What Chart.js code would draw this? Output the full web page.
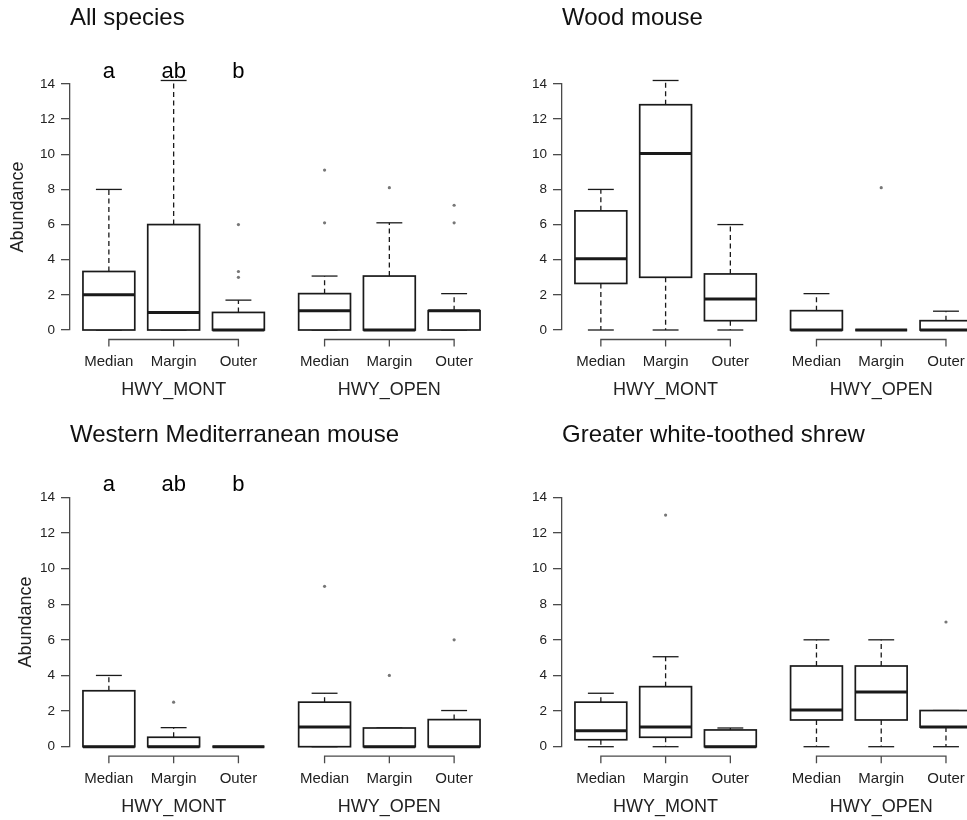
<!DOCTYPE html>
<html>
<head>
<meta charset="utf-8">
<title>Abundance by road type and position</title>
<script src="https://cdn.jsdelivr.net/npm/chart.js@4.4.1/dist/chart.umd.min.js"></script>
<style>
  body { margin: 0; background: #fff; width: 967px; height: 820px; overflow: hidden; position: relative; }
  canvas { position: absolute; }
</style>
</head>
<body>
<canvas id="allSpecies" width="492" height="400" style="left:0;top:0"></canvas>
<canvas id="woodMouse" width="475" height="400" style="left:492px;top:0"></canvas>
<canvas id="mediterranean" width="492" height="420" style="left:0;top:400px"></canvas>
<canvas id="shrew" width="475" height="420" style="left:492px;top:400px"></canvas>
<script>
const siteLabels = ['Median', 'Margin', 'Outer'];
const roadLabels = ['HWY_MONT', 'HWY_OPEN'];
const boxPositions = [1, 2, 3, 4.33, 5.33, 6.33];
const groupLetters = ['a', 'ab', 'b'];

// one row per box: [lower whisker, Q1, median, Q3, upper whisker]
// order: MONT Median, Margin, Outer, then OPEN Median, Margin, Outer
const allSpeciesStats = [
  [0, 0, 2, 3.33, 8], [0, 0, 1, 6, 14.2], [0, 0, 0, 1, 1.7],
  [0, 0, 1.1, 2.07, 3.07], [0, 0, 0, 3.07, 6.1], [0, 0, 1.1, 1.1, 2.07]
];
const allSpeciesOutliers = [[], [], [6, 3.33, 3], [9.1, 6.1], [8.1], [7.1, 6.1]];

const woodMouseStats = [
  [0, 2.65, 4.05, 6.78, 8], [0, 3, 10.05, 12.82, 14.2], [0, 0.53, 1.76, 3.19, 6],
  [0, 0, 0, 1.1, 2.07], [0, 0, 0, 0, 0], [0, 0, 0, 0.53, 1.07]
];
const woodMouseOutliers = [[], [], [], [], [8.1], []];

const mediterraneanStats = [
  [0, 0, 0, 3.14, 4], [0, 0, 0, 0.53, 1.07], [0, 0, 0, 0, 0],
  [0, 0, 1.1, 2.5, 3], [0, 0, 0, 1.05, 1.05], [0, 0, 0, 1.52, 2.03]
];
const mediterraneanOutliers = [[], [2.5], [], [9], [4], [6]];

const shrewStats = [
  [0, 0.39, 0.9, 2.5, 3], [0, 0.53, 1.1, 3.37, 5.05], [0, 0, 0, 0.94, 1.05],
  [0, 1.5, 2.06, 4.53, 6], [0, 1.5, 3.07, 4.53, 6], [0, 1.1, 1.1, 2.03, 2.03]
];
const shrewOutliers = [[], [13], [], [], [], [7]];

Chart.defaults.font.family = "'Liberation Sans', Arial, sans-serif";
Chart.defaults.color = '#222';

const INK = '#1a1a1a';
const AXIS = '#4a4a4a';

function boxPlugin(stats, letters) {
  return {
    id: 'boxes',
    beforeDatasetsDraw(chart) {
      const { ctx, scales: { x, y } } = chart;
      const seg = (x1, y1, x2, y2) => {
        ctx.beginPath(); ctx.moveTo(x1, y1); ctx.lineTo(x2, y2); ctx.stroke();
      };
      ctx.save();
      ctx.strokeStyle = INK;
      stats.forEach((s, i) => {
        const [lo, q1, med, q3, hi] = s;
        const cx = x.getPixelForValue(boxPositions[i]);
        const hw = x.getPixelForValue(boxPositions[i] + 0.4) - cx;
        const sw = hw / 2;
        // dashed whiskers
        ctx.lineWidth = 1.3;
        ctx.setLineDash([5, 3.5]);
        if (hi > q3) seg(cx, y.getPixelForValue(q3), cx, y.getPixelForValue(hi));
        if (lo < q1) seg(cx, y.getPixelForValue(q1), cx, y.getPixelForValue(lo));
        ctx.setLineDash([]);
        // staples
        seg(cx - sw, y.getPixelForValue(hi), cx + sw, y.getPixelForValue(hi));
        seg(cx - sw, y.getPixelForValue(lo), cx + sw, y.getPixelForValue(lo));
        // box
        ctx.lineWidth = 1.7;
        const top = y.getPixelForValue(q3);
        const bot = y.getPixelForValue(q1);
        ctx.fillStyle = '#fff';
        ctx.fillRect(cx - hw, top, hw * 2, bot - top);
        ctx.strokeRect(cx - hw, top, hw * 2, bot - top);
        // median
        ctx.lineWidth = 3;
        seg(cx - hw, y.getPixelForValue(med), cx + hw, y.getPixelForValue(med));
      });
      ctx.restore();
    },
    afterDraw(chart) {
      const { ctx, scales: { x, y } } = chart;
      const y0 = y.getPixelForValue(0);
      ctx.save();
      // grouping brackets with site labels, one per road
      roadLabels.forEach((road, g) => {
        const xs = boxPositions.slice(g * 3, g * 3 + 3).map(v => x.getPixelForValue(v));
        ctx.strokeStyle = AXIS;
        ctx.lineWidth = 1.3;
        ctx.beginPath();
        ctx.moveTo(xs[0], y0 + 16.5);
        ctx.lineTo(xs[0], y0 + 9.5);
        ctx.lineTo(xs[2], y0 + 9.5);
        ctx.lineTo(xs[2], y0 + 16.5);
        ctx.moveTo(xs[1], y0 + 9.5);
        ctx.lineTo(xs[1], y0 + 16.5);
        ctx.stroke();
        ctx.fillStyle = '#222';
        ctx.textAlign = 'center';
        ctx.textBaseline = 'middle';
        ctx.font = "15px 'Liberation Sans', Arial, sans-serif";
        siteLabels.forEach((lab, k) => ctx.fillText(lab, xs[k], y0 + 32));
        ctx.font = "18px 'Liberation Sans', Arial, sans-serif";
        ctx.fillText(road, xs[1], y0 + 60.5);
      });
      // significance letters above the MONT boxes
      if (letters) {
        ctx.fillStyle = '#000';
        ctx.textAlign = 'center';
        ctx.textBaseline = 'alphabetic';
        ctx.font = "22px 'Liberation Sans', Arial, sans-serif";
        letters.forEach((l, k) => ctx.fillText(l, x.getPixelForValue(boxPositions[k]), y.getPixelForValue(14.35)));
      }
      ctx.restore();
    }
  };
}

function drawPanel(id, p) {
  const points = [];
  p.outliers.forEach((vals, i) => vals.forEach(v => points.push({ x: boxPositions[i], y: v })));
  new Chart(document.getElementById(id), {
    type: 'scatter',
    data: {
      datasets: [{
        data: points,
        pointRadius: 1.6,
        pointHoverRadius: 1.6,
        backgroundColor: '#777',
        borderWidth: 0
      }]
    },
    options: {
      responsive: false,
      animation: false,
      devicePixelRatio: 1,
      layout: { padding: { top: 0, right: 0, left: 0, bottom: p.padBottom } },
      plugins: {
        legend: { display: false },
        tooltip: { enabled: false },
        title: {
          display: true,
          text: p.title,
          align: 'start',
          fullSize: false,
          color: '#111',
          font: { size: 24, weight: 'normal', lineHeight: 1.2 },
          padding: { top: p.titleTop, bottom: p.titleBottom }
        }
      },
      scales: {
        x: { type: 'linear', display: false, min: 0.4, max: p.xMax },
        y: {
          min: 0,
          max: 14,
          afterFit(scale) { scale.width = 70; },
          border: { display: true, color: AXIS, width: 1.3 },
          grid: { drawOnChartArea: false, drawTicks: true, tickLength: 9, color: AXIS, lineWidth: 1.3 },
          ticks: { stepSize: 2, padding: 6, color: '#222', font: { size: 13.5 } },
          title: {
            display: p.yTitle !== null,
            text: 'Abundance',
            color: '#222',
            font: { size: 18, lineHeight: 1.2 },
            padding: { top: p.yTitle || 0, bottom: 0 }
          }
        }
      }
    },
    plugins: [boxPlugin(p.stats, p.letters)]
  });
}

drawPanel('allSpecies', {
  title: 'All species', stats: allSpeciesStats, outliers: allSpeciesOutliers,
  letters: groupLetters, yTitle: 7.5, xMax: 6.89,
  titleTop: 3.9, titleBottom: 51.3, padBottom: 70
});
drawPanel('woodMouse', {
  title: 'Wood mouse', stats: woodMouseStats, outliers: woodMouseOutliers,
  letters: null, yTitle: null, xMax: 6.63,
  titleTop: 3.9, titleBottom: 51.3, padBottom: 70
});
drawPanel('mediterranean', {
  title: 'Western Mediterranean mouse', stats: mediterraneanStats, outliers: mediterraneanOutliers,
  letters: groupLetters, yTitle: 15, xMax: 6.89,
  titleTop: 20.6, titleBottom: 47.9, padBottom: 73.3
});
drawPanel('shrew', {
  title: 'Greater white-toothed shrew', stats: shrewStats, outliers: shrewOutliers,
  letters: null, yTitle: null, xMax: 6.63,
  titleTop: 20.6, titleBottom: 47.9, padBottom: 73.3
});
</script>
</body>
</html>
